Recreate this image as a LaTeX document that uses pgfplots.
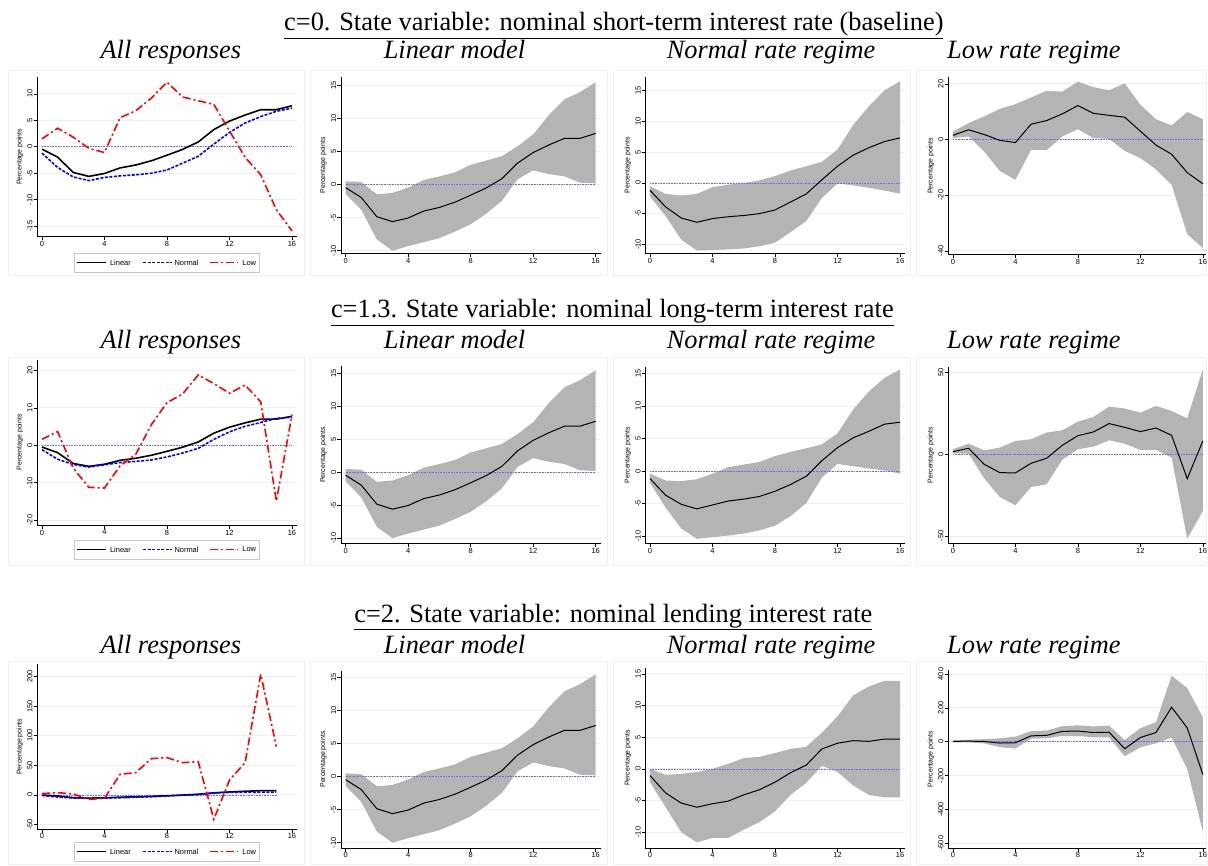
\documentclass[border=0pt]{standalone}
\usepackage{fontspec}
\setmainfont{Liberation Serif}
\newfontfamily\ticksf{Liberation Sans}
\usepackage{pgfplots}
\pgfplotsset{compat=1.18}
\usepackage{pgfplotstable}

\definecolor{bandc}{RGB}{180,180,180}
\definecolor{gridc}{RGB}{232,240,242}
\definecolor{zeroc}{RGB}{105,105,240}
\definecolor{framec}{RGB}{236,240,242}
\newcommand\tickfont{\ticksf\fontsize{7.5}{8}\selectfont}
\newcommand\labfont{\ticksf\fontsize{7}{8}\selectfont}
\newcommand\ttl{\fontsize{26.5}{30}\selectfont}

\pgfplotstableread{
h y lo hi
0 -0.45 -1.4 0.5
1 -1.95 -3.8 0.4
2 -4.85 -8.3 -1.45
3 -5.6 -10.0 -1.25
4 -5.05 -9.3 -0.45
5 -4.0 -8.7 0.7
6 -3.45 -8.1 1.25
7 -2.65 -7.1 1.85
8 -1.6 -6.0 3.0
9 -0.5 -4.4 3.65
10 0.9 -2.45 4.3
11 3.25 0.8 5.8
12 4.85 2.15 7.6
13 6.0 1.6 10.5
14 7.0 1.25 12.9
15 7.0 0.3 14.0
16 7.75 0.2 15.5
}\linT

\pgfplotstableread{
h y lo hi
0 -1.2 -2.2 -0.55
1 -3.9 -5.4 -1.8
2 -5.7 -9.2 -2.05
3 -6.4 -11.0 -1.8
4 -5.8 -10.9 -0.7
5 -5.5 -10.8 -0.3
6 -5.3 -10.65 -0.05
7 -5.0 -10.3 0.4
8 -4.4 -9.7 1.1
9 -3.1 -8.0 2.0
10 -1.8 -6.2 2.7
11 0.5 -2.45 3.4
12 2.7 -0.1 5.4
13 4.5 -0.4 9.4
14 5.7 -0.8 12.4
15 6.7 -1.25 15.0
16 7.3 -1.75 16.5
}\normA

\pgfplotstableread{
h y lo hi
0 1.5 0.5 2.8
1 3.5 1.1 5.9
2 1.8 -4.3 8.3
3 -0.3 -11.3 11.0
4 -1.1 -14.5 12.7
5 5.5 -3.7 15.1
6 6.8 -3.8 17.5
7 9.2 1.1 17.2
8 12.2 3.7 20.8
9 9.4 0.5 18.8
10 8.7 0.2 17.7
11 8.0 -4.1 20.2
12 3.0 -6.7 12.5
13 -2.0 -10.7 7.3
14 -5.3 -16.3 5.1
15 -11.9 -34.0 9.9
16 -15.9 -39.0 7.3
}\lowA

\pgfplotstableread{
h y lo hi
0 -1.15 -1.8 -0.4
1 -3.7 -5.6 -1.45
2 -5.1 -8.8 -1.55
3 -5.8 -10.4 -1.25
4 -5.2 -10.15 -0.4
5 -4.6 -9.9 0.6
6 -4.3 -9.6 1.0
7 -3.9 -9.1 1.4
8 -3.1 -8.4 2.3
9 -2.05 -6.9 2.95
10 -0.8 -4.9 3.5
11 1.6 -1.0 4.1
12 3.6 1.1 5.8
13 5.1 0.75 9.45
14 6.1 0.4 12.2
15 7.2 0.1 14.3
16 7.5 -0.4 15.6
}\normB

\pgfplotstableread{
h y lo hi
0 1.6 0.6 3.1
1 3.7 0.4 6.5
2 -6.1 -14.7 2.4
3 -11.2 -26.1 4.1
4 -11.4 -31.2 8.2
5 -5.5 -20.0 9.2
6 -2.4 -18.4 13.3
7 5.5 -3.3 14.7
8 11.4 3.1 20.0
9 13.7 4.7 22.9
10 18.8 8.6 29.2
11 16.5 6.5 28.0
12 13.9 2.7 25.5
13 16.1 2.7 29.6
14 11.6 -2.0 26.5
15 -14.9 -51.6 22.0
16 8.2 -34.7 52.0
}\lowB

\pgfplotstableread{
h y lo hi
0 -1.05 -2.1 0
1 -3.8 -6.05 -0.95
2 -5.4 -10.0 -0.8
3 -6.05 -11.6 -0.5
4 -5.5 -10.9 0
5 -5.1 -10.9 0.8
6 -4.1 -9.6 1.7
7 -3.3 -8.4 1.9
8 -2.1 -6.7 2.5
9 -0.6 -4.1 3.15
10 0.6 -2.2 3.5
11 3.15 0.5 5.7
12 4.05 -0.5 8.3
13 4.45 -2.6 11.6
14 4.35 -4.1 13.0
15 4.7 -4.5 13.9
16 4.7 -4.5 13.9
}\normC

\pgfplotstableread{
h y lo hi
0 2 -4 8
1 3.6 -4 12
2 1.4 -10 15
3 -7.7 -32 20
4 -6 -40 30
5 34.7 18 62
6 37.5 20 66
7 61.2 35 92
8 62.9 35 97
9 54.4 25 90
10 56.1 25 95
11 -41.5 -86 10
12 25 -33 80
13 54.4 -9 115
14 204 24 390
15 81.5 -161 317
16 -194 -531 144
}\lowC

\tikzset{
  zl/.style={zeroc, densely dotted, line width=0.6bp},
  linA/.style={black, line width=1.6bp, solid},
  norA/.style={blue, line width=1.6bp, dash pattern=on 3bp off 1.5bp},
  lowAs/.style={red, line width=1.6bp, dash pattern=on 8bp off 3bp on 2bp off 3bp},
}

\pgfplotsset{
  panel/.style={
    scale only axis, width=260.5bp, anchor=south west,
    axis lines*=left, xmin=-0.3, xmax=16.35,
    xtick={0,4,8,12,16},
    xticklabel={\pgfmathprintnumber[assume math mode=true]{\tick}},
    tick align=outside, major tick length=3.5bp,
    major tick style={black, line width=0.6bp},
    axis line style={black, line width=0.8bp},
    ymajorgrids, major grid style={gridc, line width=0.9bp},
    ylabel={Percentage points},
    ylabel style={font=\labfont, at={(axis description cs:0,0.5)}, anchor=center, yshift=17.5bp},
    xticklabel style={font=\tickfont, inner sep=1bp},
    yticklabel style={font=\tickfont, rotate=90, anchor=south, inner sep=1bp},
  },
  lastcol/.style={width=258.5bp, xmax=16.23},
  ticksA/.style={ytick={-10,-5,0,5,10,15}, yticklabels={-10,-5,0,5,10,15}},
}

\newcommand\band[1]{%
  \addplot[draw=none, stack plots=y, forget plot] table[x=h,y=lo]{#1};
  \addplot[fill=bandc, draw=none, stack plots=y, forget plot] table[x=h,y expr=\thisrow{hi}-\thisrow{lo}]{#1} \closedcycle;
  \addplot[zl, forget plot] coordinates {(0,0) (16,0)};
  \addplot[black, line width=1bp] table[x=h,y=y]{#1};
}
% legend box (keys only, no data) centred vertically at #1 (bp)
\newcommand\mylegend[1]{%
  \draw[black!22, line width=0.6bp] (74bp,#1bp-9.5bp) rectangle (260bp,#1bp+9.5bp);
  \draw[linA] (77.5bp,#1bp) -- (106.5bp,#1bp);
  \node[anchor=west, inner sep=0pt, font=\tickfont] at (110bp,#1bp) {Linear};
  \draw[norA] (143.5bp,#1bp) -- (172bp,#1bp);
  \node[anchor=west, inner sep=0pt, font=\tickfont] at (174.5bp,#1bp) {Normal};
  \draw[lowAs] (210bp,#1bp) -- (238bp,#1bp);
  \node[anchor=west, inner sep=0pt, font=\tickfont] at (242.5bp,#1bp) {Low};
}

\begin{document}
\begin{tikzpicture}
\fill[white] (0bp,0bp) rectangle (1208bp,866bp);
% faint panel frames
\foreach \xa/\xb in {8/305, 311/608, 614/911, 917/1207.6} {
  \foreach \ya/\yb in {590/796, 300/508, 0.4/204} {
    \draw[framec, line width=0.8bp] (\xa bp,\ya bp) rectangle (\xb bp,\yb bp);
  }
}

% ---- titles
\node[anchor=base] at (614.5bp,835bp) {\ttl\underline{c=0. State variable: nominal short-term interest rate (baseline)}};
\node[anchor=base] at (613bp,548bp) {\ttl\underline{c=1.3. State variable: nominal long-term interest rate}};
\node[anchor=base] at (614bp,243bp) {\ttl\underline{c=2. State variable: nominal lending interest rate}};
\foreach \yy in {807,517,212} {
  \node[anchor=base] at (171bp,\yy bp) {\ttl\itshape All responses};
  \node[anchor=base] at (455bp,\yy bp) {\ttl\itshape Linear model};
  \node[anchor=base] at (772bp,\yy bp) {\ttl\itshape Normal rate regime};
  \node[anchor=base] at (1035bp,\yy bp) {\ttl\itshape Low rate regime};
}

% ================= ROW 1
\begin{axis}[panel, at={(37.3bp,629bp)}, height=160bp, ymin=-17, ymax=13.2,
  ytick={-15,-10,-5,0,5,10}, yticklabels={-15,-10,-5,0,5,10}]
\addplot[zl, forget plot] coordinates {(0,0) (16,0)};
\addplot[linA] table[x=h,y=y]{\linT};
\addplot[norA] table[x=h,y=y]{\normA};
\addplot[lowAs] table[x=h,y=y]{\lowA};
\end{axis}
\mylegend{603}

\begin{axis}[panel, at={(341.3bp,612bp)}, height=177bp, ymin=-10.45, ymax=16.3, ticksA]
\band{\linT}
\end{axis}

\begin{axis}[panel, at={(646bp,612bp)}, height=177bp, ymin=-11.5, ymax=17.2, ticksA]
\band{\normA}
\end{axis}

\begin{axis}[panel, lastcol, at={(949.3bp,611bp)}, height=178bp, ymin=-41.4, ymax=22.5,
  ytick={-40,-20,0,20}, yticklabels={-40,-20,0,20}]
\band{\lowA}
\end{axis}

% ================= ROW 2
\begin{axis}[panel, at={(37.3bp,340.3bp)}, height=165.7bp, ymin=-21.3, ymax=22.9,
  ytick={-20,-10,0,10,20}, yticklabels={-20,-10,0,10,20}]
\addplot[zl, forget plot] coordinates {(0,0) (16,0)};
\addplot[linA] table[x=h,y=y]{\linT};
\addplot[norA] table[x=h,y=y]{\normB};
\addplot[lowAs] table[x=h,y=y]{\lowB};
\end{axis}
\mylegend{316}

\begin{axis}[panel, at={(341.3bp,322bp)}, height=177.3bp, ymin=-10.8, ymax=16.1, ticksA]
\band{\linT}
\end{axis}

\begin{axis}[panel, at={(646bp,322bp)}, height=176.7bp, ymin=-11.1, ymax=16.0, ticksA]
\band{\normB}
\end{axis}

\begin{axis}[panel, lastcol, at={(949.3bp,322bp)}, height=176.7bp, ymin=-54.5, ymax=53.5,
  ytick={-50,0,50}, yticklabels={-50,0,50}]
\band{\lowB}
\end{axis}

% ================= ROW 3
\begin{axis}[panel, at={(37.3bp,36bp)}, height=165bp, ymin=-58, ymax=221,
  ytick={-50,0,50,100,150,200}, yticklabels={-50,0,50,100,150,200}]
\addplot[zl, forget plot] coordinates {(0,0) (15,0)};
\addplot[linA, skip coords between index={16}{17}] table[x=h,y=y]{\linT};
\addplot[norA, skip coords between index={16}{17}] table[x=h,y=y]{\normC};
\addplot[lowAs, skip coords between index={16}{17}] table[x=h,y=y]{\lowC};
\end{axis}
\mylegend{13.5}

\begin{axis}[panel, at={(341.3bp,17bp)}, height=177.3bp, ymin=-10.8, ymax=16.0, ticksA]
\band{\linT}
\end{axis}

\begin{axis}[panel, at={(646bp,17bp)}, height=180.7bp, ymin=-12.5, ymax=16.0, ticksA]
\band{\normC}
\end{axis}

\begin{axis}[panel, lastcol, at={(949.3bp,17bp)}, height=178.3bp, ymin=-628, ymax=424,
  ytick={-600,-400,-200,0,200,400}, yticklabels={-600,-400,-200,0,200,400}]
\band{\lowC}
\end{axis}
\end{tikzpicture}
\end{document}
